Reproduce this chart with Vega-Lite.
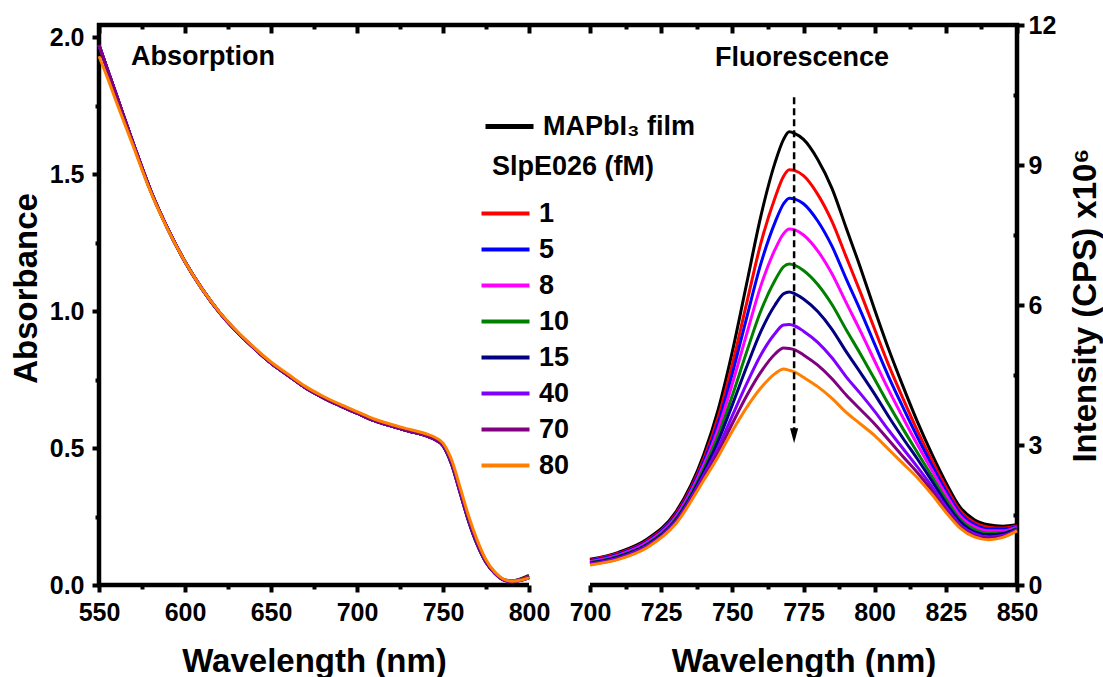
{
"$schema":"https://vega.github.io/schema/vega-lite/v6.json",
"width":918,"height":560,
"autosize":{"type":"none"},
"padding":{"left":99,"top":25,"right":86,"bottom":92},
"background":"white",
"config":{
"font":"Liberation Sans",
"view":{"stroke":"black","strokeWidth":4.5,"strokeDash":[1905,61,1100,0]},
"axis":{"domain":false,"grid":false,"tickColor":"black","tickWidth":4,"labelColor":"black","labelFont":"Liberation Sans","labelFontWeight":"bold","labelFontSize":25,"titleColor":"black","titleFont":"Liberation Sans","titleFontWeight":"bold","titleFontSize":33,"labelOverlap":false,"labelFlush":false,"labelBound":false},
"legend":{"padding":0,"labelFont":"Liberation Sans","labelFontWeight":"bold","labelFontSize":27,"labelColor":"black","titleFont":"Liberation Sans","titleFontWeight":"bold","titleFontSize":27,"titleColor":"black","symbolType":"M-1,0L5,0","symbolSize":256,"symbolOffset":-16,"labelOffset":36,"rowPadding":8}
},
"datasets":{
"labA":[{"t":"Absorption","w":568.6,"a":1.927}],
"labF":[{"t":"Fluorescence","w":774.5,"i":11.29}],
"ann":[{"w":771.7,"i":10.45,"i2":3.2}],
"abs":[
{"s":"MAPbI₃ film","w":550,"a":1.97},{"s":"MAPbI₃ film","w":555,"a":1.88},{"s":"MAPbI₃ film","w":560,"a":1.79},{"s":"MAPbI₃ film","w":570,"a":1.61},{"s":"MAPbI₃ film","w":580,"a":1.44},{"s":"MAPbI₃ film","w":590,"a":1.3},{"s":"MAPbI₃ film","w":600,"a":1.18},{"s":"MAPbI₃ film","w":610,"a":1.08},{"s":"MAPbI₃ film","w":620,"a":0.995},{"s":"MAPbI₃ film","w":630,"a":0.925},{"s":"MAPbI₃ film","w":640,"a":0.865},{"s":"MAPbI₃ film","w":650,"a":0.81},{"s":"MAPbI₃ film","w":660,"a":0.765},{"s":"MAPbI₃ film","w":670,"a":0.72},{"s":"MAPbI₃ film","w":680,"a":0.685},{"s":"MAPbI₃ film","w":690,"a":0.655},{"s":"MAPbI₃ film","w":700,"a":0.627},{"s":"MAPbI₃ film","w":710,"a":0.6},{"s":"MAPbI₃ film","w":720,"a":0.58},{"s":"MAPbI₃ film","w":730,"a":0.562},{"s":"MAPbI₃ film","w":740,"a":0.545},{"s":"MAPbI₃ film","w":745,"a":0.532},{"s":"MAPbI₃ film","w":750,"a":0.508},{"s":"MAPbI₃ film","w":755,"a":0.44},{"s":"MAPbI₃ film","w":760,"a":0.335},{"s":"MAPbI₃ film","w":765,"a":0.23},{"s":"MAPbI₃ film","w":770,"a":0.145},{"s":"MAPbI₃ film","w":775,"a":0.082},{"s":"MAPbI₃ film","w":780,"a":0.043},{"s":"MAPbI₃ film","w":785,"a":0.02},{"s":"MAPbI₃ film","w":790,"a":0.015},{"s":"MAPbI₃ film","w":795,"a":0.022},{"s":"MAPbI₃ film","w":800,"a":0.035},
{"s":"1","w":550,"a":1.97},{"s":"1","w":555,"a":1.88},{"s":"1","w":560,"a":1.79},{"s":"1","w":570,"a":1.61},{"s":"1","w":580,"a":1.44},{"s":"1","w":590,"a":1.3},{"s":"1","w":600,"a":1.18},{"s":"1","w":610,"a":1.08},{"s":"1","w":620,"a":0.995},{"s":"1","w":630,"a":0.925},{"s":"1","w":640,"a":0.865},{"s":"1","w":650,"a":0.81},{"s":"1","w":660,"a":0.765},{"s":"1","w":670,"a":0.72},{"s":"1","w":680,"a":0.685},{"s":"1","w":690,"a":0.655},{"s":"1","w":700,"a":0.627},{"s":"1","w":710,"a":0.6},{"s":"1","w":720,"a":0.58},{"s":"1","w":730,"a":0.562},{"s":"1","w":740,"a":0.545},{"s":"1","w":745,"a":0.532},{"s":"1","w":750,"a":0.509},{"s":"1","w":755,"a":0.442},{"s":"1","w":760,"a":0.337},{"s":"1","w":765,"a":0.232},{"s":"1","w":770,"a":0.147},{"s":"1","w":775,"a":0.083},{"s":"1","w":780,"a":0.044},{"s":"1","w":785,"a":0.02},{"s":"1","w":790,"a":0.014},{"s":"1","w":795,"a":0.02},{"s":"1","w":800,"a":0.032},
{"s":"5","w":550,"a":1.97},{"s":"5","w":555,"a":1.88},{"s":"5","w":560,"a":1.79},{"s":"5","w":570,"a":1.61},{"s":"5","w":580,"a":1.44},{"s":"5","w":590,"a":1.3},{"s":"5","w":600,"a":1.18},{"s":"5","w":610,"a":1.08},{"s":"5","w":620,"a":0.995},{"s":"5","w":630,"a":0.925},{"s":"5","w":640,"a":0.865},{"s":"5","w":650,"a":0.81},{"s":"5","w":660,"a":0.765},{"s":"5","w":670,"a":0.72},{"s":"5","w":680,"a":0.685},{"s":"5","w":690,"a":0.655},{"s":"5","w":700,"a":0.627},{"s":"5","w":710,"a":0.6},{"s":"5","w":720,"a":0.58},{"s":"5","w":730,"a":0.562},{"s":"5","w":740,"a":0.545},{"s":"5","w":745,"a":0.532},{"s":"5","w":750,"a":0.509},{"s":"5","w":755,"a":0.442},{"s":"5","w":760,"a":0.337},{"s":"5","w":765,"a":0.232},{"s":"5","w":770,"a":0.147},{"s":"5","w":775,"a":0.083},{"s":"5","w":780,"a":0.044},{"s":"5","w":785,"a":0.019},{"s":"5","w":790,"a":0.013},{"s":"5","w":795,"a":0.018},{"s":"5","w":800,"a":0.028},
{"s":"8","w":550,"a":1.97},{"s":"8","w":555,"a":1.88},{"s":"8","w":560,"a":1.79},{"s":"8","w":570,"a":1.61},{"s":"8","w":580,"a":1.44},{"s":"8","w":590,"a":1.3},{"s":"8","w":600,"a":1.18},{"s":"8","w":610,"a":1.08},{"s":"8","w":620,"a":0.995},{"s":"8","w":630,"a":0.925},{"s":"8","w":640,"a":0.865},{"s":"8","w":650,"a":0.81},{"s":"8","w":660,"a":0.765},{"s":"8","w":670,"a":0.72},{"s":"8","w":680,"a":0.685},{"s":"8","w":690,"a":0.655},{"s":"8","w":700,"a":0.627},{"s":"8","w":710,"a":0.6},{"s":"8","w":720,"a":0.58},{"s":"8","w":730,"a":0.562},{"s":"8","w":740,"a":0.545},{"s":"8","w":745,"a":0.532},{"s":"8","w":750,"a":0.51},{"s":"8","w":755,"a":0.444},{"s":"8","w":760,"a":0.339},{"s":"8","w":765,"a":0.234},{"s":"8","w":770,"a":0.149},{"s":"8","w":775,"a":0.084},{"s":"8","w":780,"a":0.045},{"s":"8","w":785,"a":0.02},{"s":"8","w":790,"a":0.013},{"s":"8","w":795,"a":0.018},{"s":"8","w":800,"a":0.028},
{"s":"10","w":550,"a":1.97},{"s":"10","w":555,"a":1.88},{"s":"10","w":560,"a":1.79},{"s":"10","w":570,"a":1.61},{"s":"10","w":580,"a":1.44},{"s":"10","w":590,"a":1.3},{"s":"10","w":600,"a":1.18},{"s":"10","w":610,"a":1.08},{"s":"10","w":620,"a":0.995},{"s":"10","w":630,"a":0.925},{"s":"10","w":640,"a":0.865},{"s":"10","w":650,"a":0.81},{"s":"10","w":660,"a":0.765},{"s":"10","w":670,"a":0.72},{"s":"10","w":680,"a":0.685},{"s":"10","w":690,"a":0.655},{"s":"10","w":700,"a":0.627},{"s":"10","w":710,"a":0.6},{"s":"10","w":720,"a":0.58},{"s":"10","w":730,"a":0.562},{"s":"10","w":740,"a":0.545},{"s":"10","w":745,"a":0.532},{"s":"10","w":750,"a":0.51},{"s":"10","w":755,"a":0.445},{"s":"10","w":760,"a":0.34},{"s":"10","w":765,"a":0.235},{"s":"10","w":770,"a":0.15},{"s":"10","w":775,"a":0.085},{"s":"10","w":780,"a":0.045},{"s":"10","w":785,"a":0.02},{"s":"10","w":790,"a":0.013},{"s":"10","w":795,"a":0.018},{"s":"10","w":800,"a":0.028},
{"s":"15","w":550,"a":1.97},{"s":"15","w":555,"a":1.88},{"s":"15","w":560,"a":1.79},{"s":"15","w":570,"a":1.61},{"s":"15","w":580,"a":1.44},{"s":"15","w":590,"a":1.3},{"s":"15","w":600,"a":1.18},{"s":"15","w":610,"a":1.08},{"s":"15","w":620,"a":0.995},{"s":"15","w":630,"a":0.925},{"s":"15","w":640,"a":0.865},{"s":"15","w":650,"a":0.81},{"s":"15","w":660,"a":0.765},{"s":"15","w":670,"a":0.72},{"s":"15","w":680,"a":0.685},{"s":"15","w":690,"a":0.655},{"s":"15","w":700,"a":0.627},{"s":"15","w":710,"a":0.6},{"s":"15","w":720,"a":0.58},{"s":"15","w":730,"a":0.562},{"s":"15","w":740,"a":0.545},{"s":"15","w":745,"a":0.532},{"s":"15","w":750,"a":0.51},{"s":"15","w":755,"a":0.445},{"s":"15","w":760,"a":0.34},{"s":"15","w":765,"a":0.235},{"s":"15","w":770,"a":0.15},{"s":"15","w":775,"a":0.085},{"s":"15","w":780,"a":0.045},{"s":"15","w":785,"a":0.02},{"s":"15","w":790,"a":0.012},{"s":"15","w":795,"a":0.017},{"s":"15","w":800,"a":0.027},
{"s":"40","w":550,"a":1.97},{"s":"40","w":555,"a":1.88},{"s":"40","w":560,"a":1.79},{"s":"40","w":570,"a":1.61},{"s":"40","w":580,"a":1.44},{"s":"40","w":590,"a":1.3},{"s":"40","w":600,"a":1.18},{"s":"40","w":610,"a":1.08},{"s":"40","w":620,"a":0.995},{"s":"40","w":630,"a":0.925},{"s":"40","w":640,"a":0.865},{"s":"40","w":650,"a":0.81},{"s":"40","w":660,"a":0.765},{"s":"40","w":670,"a":0.72},{"s":"40","w":680,"a":0.685},{"s":"40","w":690,"a":0.655},{"s":"40","w":700,"a":0.627},{"s":"40","w":710,"a":0.6},{"s":"40","w":720,"a":0.58},{"s":"40","w":730,"a":0.562},{"s":"40","w":740,"a":0.545},{"s":"40","w":745,"a":0.532},{"s":"40","w":750,"a":0.511},{"s":"40","w":755,"a":0.447},{"s":"40","w":760,"a":0.342},{"s":"40","w":765,"a":0.238},{"s":"40","w":770,"a":0.152},{"s":"40","w":775,"a":0.086},{"s":"40","w":780,"a":0.045},{"s":"40","w":785,"a":0.019},{"s":"40","w":790,"a":0.011},{"s":"40","w":795,"a":0.016},{"s":"40","w":800,"a":0.026},
{"s":"70","w":550,"a":1.97},{"s":"70","w":555,"a":1.88},{"s":"70","w":560,"a":1.79},{"s":"70","w":570,"a":1.61},{"s":"70","w":580,"a":1.44},{"s":"70","w":590,"a":1.3},{"s":"70","w":600,"a":1.18},{"s":"70","w":610,"a":1.08},{"s":"70","w":620,"a":0.995},{"s":"70","w":630,"a":0.925},{"s":"70","w":640,"a":0.865},{"s":"70","w":650,"a":0.81},{"s":"70","w":660,"a":0.765},{"s":"70","w":670,"a":0.72},{"s":"70","w":680,"a":0.685},{"s":"70","w":690,"a":0.655},{"s":"70","w":700,"a":0.627},{"s":"70","w":710,"a":0.6},{"s":"70","w":720,"a":0.58},{"s":"70","w":730,"a":0.563},{"s":"70","w":740,"a":0.546},{"s":"70","w":745,"a":0.533},{"s":"70","w":750,"a":0.512},{"s":"70","w":755,"a":0.448},{"s":"70","w":760,"a":0.344},{"s":"70","w":765,"a":0.24},{"s":"70","w":770,"a":0.154},{"s":"70","w":775,"a":0.087},{"s":"70","w":780,"a":0.046},{"s":"70","w":785,"a":0.02},{"s":"70","w":790,"a":0.012},{"s":"70","w":795,"a":0.016},{"s":"70","w":800,"a":0.026},
{"s":"80","w":550,"a":1.93},{"s":"80","w":555,"a":1.85},{"s":"80","w":560,"a":1.765},{"s":"80","w":570,"a":1.6},{"s":"80","w":580,"a":1.435},{"s":"80","w":590,"a":1.298},{"s":"80","w":600,"a":1.18},{"s":"80","w":610,"a":1.08},{"s":"80","w":620,"a":0.997},{"s":"80","w":630,"a":0.928},{"s":"80","w":640,"a":0.868},{"s":"80","w":650,"a":0.814},{"s":"80","w":660,"a":0.769},{"s":"80","w":670,"a":0.725},{"s":"80","w":680,"a":0.69},{"s":"80","w":690,"a":0.66},{"s":"80","w":700,"a":0.633},{"s":"80","w":710,"a":0.606},{"s":"80","w":720,"a":0.586},{"s":"80","w":730,"a":0.569},{"s":"80","w":740,"a":0.552},{"s":"80","w":745,"a":0.54},{"s":"80","w":750,"a":0.518},{"s":"80","w":755,"a":0.457},{"s":"80","w":760,"a":0.355},{"s":"80","w":765,"a":0.25},{"s":"80","w":770,"a":0.162},{"s":"80","w":775,"a":0.092},{"s":"80","w":780,"a":0.048},{"s":"80","w":785,"a":0.022},{"s":"80","w":790,"a":0.014},{"s":"80","w":795,"a":0.017},{"s":"80","w":800,"a":0.026}
],
"fl":[
{"s":"MAPbI₃ film","w":700,"i":0.55},{"s":"MAPbI₃ film","w":710,"i":0.7},{"s":"MAPbI₃ film","w":720,"i":0.98},{"s":"MAPbI₃ film","w":730,"i":1.55},{"s":"MAPbI₃ film","w":740,"i":2.8},{"s":"MAPbI₃ film","w":745,"i":3.75},{"s":"MAPbI₃ film","w":750,"i":5.0},{"s":"MAPbI₃ film","w":755,"i":6.45},{"s":"MAPbI₃ film","w":760,"i":7.9},{"s":"MAPbI₃ film","w":765,"i":9.05},{"s":"MAPbI₃ film","w":768,"i":9.55},{"s":"MAPbI₃ film","w":770,"i":9.71},{"s":"MAPbI₃ film","w":772,"i":9.67},{"s":"MAPbI₃ film","w":775,"i":9.55},{"s":"MAPbI₃ film","w":780,"i":9.12},{"s":"MAPbI₃ film","w":785,"i":8.5},{"s":"MAPbI₃ film","w":790,"i":7.65},{"s":"MAPbI₃ film","w":795,"i":6.8},{"s":"MAPbI₃ film","w":800,"i":5.9},{"s":"MAPbI₃ film","w":805,"i":5.04},{"s":"MAPbI₃ film","w":810,"i":4.25},{"s":"MAPbI₃ film","w":815,"i":3.5},{"s":"MAPbI₃ film","w":820,"i":2.82},{"s":"MAPbI₃ film","w":825,"i":2.2},{"s":"MAPbI₃ film","w":830,"i":1.67},{"s":"MAPbI₃ film","w":835,"i":1.4},{"s":"MAPbI₃ film","w":840,"i":1.29},{"s":"MAPbI₃ film","w":845,"i":1.26},{"s":"MAPbI₃ film","w":850,"i":1.29},
{"s":"1","w":700,"i":0.53},{"s":"1","w":710,"i":0.68},{"s":"1","w":720,"i":0.95},{"s":"1","w":730,"i":1.51},{"s":"1","w":740,"i":2.71},{"s":"1","w":745,"i":3.59},{"s":"1","w":750,"i":4.73},{"s":"1","w":755,"i":6.03},{"s":"1","w":760,"i":7.32},{"s":"1","w":765,"i":8.3},{"s":"1","w":768,"i":8.76},{"s":"1","w":770,"i":8.9},{"s":"1","w":772,"i":8.88},{"s":"1","w":775,"i":8.77},{"s":"1","w":780,"i":8.37},{"s":"1","w":785,"i":7.79},{"s":"1","w":790,"i":7.03},{"s":"1","w":795,"i":6.27},{"s":"1","w":800,"i":5.48},{"s":"1","w":805,"i":4.7},{"s":"1","w":810,"i":3.99},{"s":"1","w":815,"i":3.31},{"s":"1","w":820,"i":2.68},{"s":"1","w":825,"i":2.1},{"s":"1","w":830,"i":1.59},{"s":"1","w":835,"i":1.34},{"s":"1","w":840,"i":1.24},{"s":"1","w":845,"i":1.22},{"s":"1","w":850,"i":1.27},
{"s":"5","w":700,"i":0.52},{"s":"5","w":710,"i":0.66},{"s":"5","w":720,"i":0.93},{"s":"5","w":730,"i":1.48},{"s":"5","w":740,"i":2.65},{"s":"5","w":745,"i":3.47},{"s":"5","w":750,"i":4.53},{"s":"5","w":755,"i":5.72},{"s":"5","w":760,"i":6.88},{"s":"5","w":765,"i":7.77},{"s":"5","w":768,"i":8.17},{"s":"5","w":770,"i":8.29},{"s":"5","w":772,"i":8.27},{"s":"5","w":775,"i":8.17},{"s":"5","w":780,"i":7.8},{"s":"5","w":785,"i":7.26},{"s":"5","w":790,"i":6.56},{"s":"5","w":795,"i":5.88},{"s":"5","w":800,"i":5.16},{"s":"5","w":805,"i":4.45},{"s":"5","w":810,"i":3.8},{"s":"5","w":815,"i":3.17},{"s":"5","w":820,"i":2.58},{"s":"5","w":825,"i":2.02},{"s":"5","w":830,"i":1.54},{"s":"5","w":835,"i":1.3},{"s":"5","w":840,"i":1.2},{"s":"5","w":845,"i":1.2},{"s":"5","w":850,"i":1.25},
{"s":"8","w":700,"i":0.5},{"s":"8","w":710,"i":0.64},{"s":"8","w":720,"i":0.91},{"s":"8","w":730,"i":1.45},{"s":"8","w":740,"i":2.58},{"s":"8","w":745,"i":3.34},{"s":"8","w":750,"i":4.31},{"s":"8","w":755,"i":5.37},{"s":"8","w":760,"i":6.41},{"s":"8","w":765,"i":7.19},{"s":"8","w":768,"i":7.53},{"s":"8","w":770,"i":7.63},{"s":"8","w":772,"i":7.61},{"s":"8","w":775,"i":7.5},{"s":"8","w":780,"i":7.16},{"s":"8","w":785,"i":6.67},{"s":"8","w":790,"i":6.05},{"s":"8","w":795,"i":5.44},{"s":"8","w":800,"i":4.8},{"s":"8","w":805,"i":4.17},{"s":"8","w":810,"i":3.58},{"s":"8","w":815,"i":3.01},{"s":"8","w":820,"i":2.47},{"s":"8","w":825,"i":1.94},{"s":"8","w":830,"i":1.48},{"s":"8","w":835,"i":1.25},{"s":"8","w":840,"i":1.16},{"s":"8","w":845,"i":1.16},{"s":"8","w":850,"i":1.24},
{"s":"10","w":700,"i":0.48},{"s":"10","w":710,"i":0.62},{"s":"10","w":720,"i":0.88},{"s":"10","w":730,"i":1.41},{"s":"10","w":740,"i":2.5},{"s":"10","w":745,"i":3.2},{"s":"10","w":750,"i":4.06},{"s":"10","w":755,"i":4.99},{"s":"10","w":760,"i":5.87},{"s":"10","w":765,"i":6.53},{"s":"10","w":768,"i":6.82},{"s":"10","w":770,"i":6.88},{"s":"10","w":772,"i":6.85},{"s":"10","w":775,"i":6.74},{"s":"10","w":780,"i":6.44},{"s":"10","w":785,"i":6.01},{"s":"10","w":790,"i":5.47},{"s":"10","w":795,"i":4.95},{"s":"10","w":800,"i":4.41},{"s":"10","w":805,"i":3.86},{"s":"10","w":810,"i":3.34},{"s":"10","w":815,"i":2.84},{"s":"10","w":820,"i":2.34},{"s":"10","w":825,"i":1.84},{"s":"10","w":830,"i":1.41},{"s":"10","w":835,"i":1.19},{"s":"10","w":840,"i":1.11},{"s":"10","w":845,"i":1.12},{"s":"10","w":850,"i":1.22},
{"s":"15","w":700,"i":0.47},{"s":"15","w":710,"i":0.6},{"s":"15","w":720,"i":0.86},{"s":"15","w":730,"i":1.38},{"s":"15","w":740,"i":2.43},{"s":"15","w":745,"i":3.08},{"s":"15","w":750,"i":3.86},{"s":"15","w":755,"i":4.67},{"s":"15","w":760,"i":5.43},{"s":"15","w":765,"i":6.0},{"s":"15","w":768,"i":6.24},{"s":"15","w":770,"i":6.28},{"s":"15","w":772,"i":6.24},{"s":"15","w":775,"i":6.13},{"s":"15","w":780,"i":5.86},{"s":"15","w":785,"i":5.48},{"s":"15","w":790,"i":5.0},{"s":"15","w":795,"i":4.55},{"s":"15","w":800,"i":4.09},{"s":"15","w":805,"i":3.6},{"s":"15","w":810,"i":3.14},{"s":"15","w":815,"i":2.7},{"s":"15","w":820,"i":2.24},{"s":"15","w":825,"i":1.76},{"s":"15","w":830,"i":1.36},{"s":"15","w":835,"i":1.14},{"s":"15","w":840,"i":1.08},{"s":"15","w":845,"i":1.1},{"s":"15","w":850,"i":1.2},
{"s":"40","w":700,"i":0.45},{"s":"40","w":710,"i":0.58},{"s":"40","w":720,"i":0.84},{"s":"40","w":730,"i":1.35},{"s":"40","w":740,"i":2.36},{"s":"40","w":745,"i":2.94},{"s":"40","w":750,"i":3.63},{"s":"40","w":755,"i":4.31},{"s":"40","w":760,"i":4.93},{"s":"40","w":765,"i":5.39},{"s":"40","w":768,"i":5.57},{"s":"40","w":770,"i":5.58},{"s":"40","w":772,"i":5.55},{"s":"40","w":775,"i":5.44},{"s":"40","w":780,"i":5.2},{"s":"40","w":785,"i":4.87},{"s":"40","w":790,"i":4.46},{"s":"40","w":795,"i":4.1},{"s":"40","w":800,"i":3.72},{"s":"40","w":805,"i":3.31},{"s":"40","w":810,"i":2.92},{"s":"40","w":815,"i":2.53},{"s":"40","w":820,"i":2.12},{"s":"40","w":825,"i":1.68},{"s":"40","w":830,"i":1.29},{"s":"40","w":835,"i":1.1},{"s":"40","w":840,"i":1.03},{"s":"40","w":845,"i":1.06},{"s":"40","w":850,"i":1.19},
{"s":"70","w":700,"i":0.44},{"s":"70","w":710,"i":0.56},{"s":"70","w":720,"i":0.82},{"s":"70","w":730,"i":1.32},{"s":"70","w":740,"i":2.3},{"s":"70","w":745,"i":2.84},{"s":"70","w":750,"i":3.46},{"s":"70","w":755,"i":4.05},{"s":"70","w":760,"i":4.56},{"s":"70","w":765,"i":4.95},{"s":"70","w":768,"i":5.08},{"s":"70","w":770,"i":5.07},{"s":"70","w":772,"i":5.04},{"s":"70","w":775,"i":4.93},{"s":"70","w":780,"i":4.71},{"s":"70","w":785,"i":4.42},{"s":"70","w":790,"i":4.07},{"s":"70","w":795,"i":3.76},{"s":"70","w":800,"i":3.45},{"s":"70","w":805,"i":3.1},{"s":"70","w":810,"i":2.75},{"s":"70","w":815,"i":2.41},{"s":"70","w":820,"i":2.03},{"s":"70","w":825,"i":1.61},{"s":"70","w":830,"i":1.25},{"s":"70","w":835,"i":1.06},{"s":"70","w":840,"i":1.0},{"s":"70","w":845,"i":1.04},{"s":"70","w":850,"i":1.17},
{"s":"80","w":700,"i":0.43},{"s":"80","w":710,"i":0.55},{"s":"80","w":720,"i":0.8},{"s":"80","w":730,"i":1.3},{"s":"80","w":740,"i":2.25},{"s":"80","w":745,"i":2.75},{"s":"80","w":750,"i":3.3},{"s":"80","w":755,"i":3.8},{"s":"80","w":760,"i":4.22},{"s":"80","w":765,"i":4.53},{"s":"80","w":768,"i":4.63},{"s":"80","w":770,"i":4.6},{"s":"80","w":772,"i":4.56},{"s":"80","w":775,"i":4.45},{"s":"80","w":780,"i":4.25},{"s":"80","w":785,"i":4.0},{"s":"80","w":790,"i":3.7},{"s":"80","w":795,"i":3.45},{"s":"80","w":800,"i":3.2},{"s":"80","w":805,"i":2.9},{"s":"80","w":810,"i":2.6},{"s":"80","w":815,"i":2.3},{"s":"80","w":820,"i":1.95},{"s":"80","w":825,"i":1.56},{"s":"80","w":830,"i":1.22},{"s":"80","w":835,"i":1.03},{"s":"80","w":840,"i":0.97},{"s":"80","w":845,"i":1.02},{"s":"80","w":850,"i":1.16}
]
},
"layer":[
{
"data":{"name":"abs"},
"mark":{"type":"line","strokeWidth":3,"interpolate":"monotone"},
"encoding":{
"x":{"field":"w","type":"quantitative","scale":{"domain":[550,800],"range":[0,430],"nice":false,"zero":false},
"axis":{"orient":"bottom","values":[550,575,600,625,650,675,700,725,750,775,800],"labelExpr":"datum.value % 50 === 0 ? datum.label : ''","tickSize":{"condition":{"test":"datum.value % 50 !== 0","value":4},"value":7},"labelPadding":8,"title":"Wavelength (nm)","titlePadding":20}},
"y":{"field":"a","type":"quantitative","scale":{"domain":[0,2.044],"nice":false,"zero":false},
"axis":{"orient":"left","values":[0,0.25,0.5,0.75,1,1.25,1.5,1.75,2],"labelExpr":"datum.value % 0.5 === 0 ? format(datum.value, '.1f') : ''","tickSize":{"condition":{"test":"datum.value % 0.5 !== 0","value":4},"value":7},"labelPadding":8,"title":"Absorbance","titlePadding":6,"titleY":263}},
"color":{"field":"s","type":"nominal","scale":{"domain":["MAPbI₃ film","1","5","8","10","15","40","70","80"],"range":["#000000","#FF0000","#0000FF","#FF00FF","#008000","#000080","#8000FF","#800080","#FF8000"]},"legend":null}
}
},
{
"data":{"name":"fl"},
"layer":[
{
"transform":[{"filter":{"field":"s","equal":"MAPbI₃ film"}}],
"mark":{"type":"line","strokeWidth":3,"interpolate":"monotone"},
"encoding":{
"x":{"field":"w","type":"quantitative","scale":{"domain":[700,850],"range":[491,918],"nice":false,"zero":false},
"axis":{"orient":"bottom","values":[700,712.5,725,737.5,750,762.5,775,787.5,800,812.5,825,837.5,850],"labelExpr":"datum.value % 25 === 0 ? datum.label : ''","tickSize":{"condition":{"test":"datum.value % 25 !== 0","value":4},"value":7},"labelPadding":8,"title":"Wavelength (nm)","titlePadding":20}},
"y":{"field":"i","type":"quantitative","scale":{"domain":[0,12],"nice":false,"zero":false},
"axis":{"orient":"right","values":[0,1.5,3,4.5,6,7.5,9,10.5,12],"labelExpr":"datum.value % 3 === 0 ? datum.label : ''","tickSize":{"condition":{"test":"datum.value % 3 !== 0","value":-4},"value":7},"labelPadding":4,"title":"Intensity (CPS) x10⁶","titleAngle":270,"titleBaseline":"top","titlePadding":14}},
"color":{"field":"s","type":"nominal","scale":{"domain":["MAPbI₃ film"],"range":["#000000"]},
"legend":{"orient":"none","legendX":397,"legendY":88,"title":null,"symbolStrokeWidth":5}}
}
},
{
"transform":[{"filter":{"not":{"field":"s","equal":"MAPbI₃ film"}}}],
"mark":{"type":"line","strokeWidth":3,"interpolate":"monotone"},
"encoding":{
"x":{"field":"w","type":"quantitative","scale":{"domain":[700,850],"range":[491,918],"nice":false,"zero":false}},
"y":{"field":"i","type":"quantitative","scale":{"domain":[0,12],"nice":false,"zero":false}},
"color":{"field":"s","type":"nominal","scale":{"domain":["1","5","8","10","15","40","70","80"],"range":["#FF0000","#0000FF","#FF00FF","#008000","#000080","#8000FF","#800080","#FF8000"]},
"legend":{"orient":"none","legendX":393,"legendY":129,"title":"SlpE026 (fM)","titlePadding":19,"symbolStrokeWidth":4}}
}
},
{
"data":{"name":"ann"},
"mark":{"type":"rule","strokeDash":[7,4],"strokeWidth":2.5,"color":"black"},
"encoding":{
"x":{"field":"w","type":"quantitative","scale":{"domain":[700,850],"range":[491,918],"nice":false,"zero":false}},
"y":{"field":"i","type":"quantitative","scale":{"domain":[0,12],"nice":false,"zero":false}},
"y2":{"field":"i2"}
}
},
{
"data":{"name":"ann"},
"mark":{"type":"point","shape":"M-0.54,-1L0.54,-1L0,1Z","size":225,"filled":true,"color":"black","opacity":1},
"encoding":{
"x":{"field":"w","type":"quantitative","scale":{"domain":[700,850],"range":[491,918],"nice":false,"zero":false}},
"y":{"field":"i2","type":"quantitative","scale":{"domain":[0,12],"nice":false,"zero":false}}
}
}
],
"resolve":{"scale":{"color":"independent"}}
},
{
"data":{"name":"labA"},
"mark":{"type":"text","align":"left","baseline":"middle","fontSize":27,"fontWeight":"bold","color":"black"},
"encoding":{
"x":{"field":"w","type":"quantitative","scale":{"domain":[550,800],"range":[0,430],"nice":false,"zero":false},
"axis":{"orient":"top","values":[550,575,600,625,650,675,700,725,750,775,800],"labels":false,"title":null,"tickSize":{"condition":{"test":"datum.value % 50 !== 0","value":-4},"value":-8}}},
"y":{"field":"a","type":"quantitative","scale":{"domain":[0,2.044],"nice":false,"zero":false},"axis":null},
"text":{"field":"t"}
}
},
{
"data":{"name":"labF"},
"mark":{"type":"text","align":"center","baseline":"middle","fontSize":27,"fontWeight":"bold","color":"black"},
"encoding":{
"x":{"field":"w","type":"quantitative","scale":{"domain":[700,850],"range":[491,918],"nice":false,"zero":false},
"axis":{"orient":"top","values":[700,712.5,725,737.5,750,762.5,775,787.5,800,812.5,825,837.5,850],"labels":false,"title":null,"tickSize":{"condition":{"test":"datum.value % 25 !== 0","value":-4},"value":-8}}},
"y":{"field":"i","type":"quantitative","scale":{"domain":[0,12],"nice":false,"zero":false},"axis":null},
"text":{"field":"t"}
}
}
],
"resolve":{"scale":{"x":"independent","y":"independent","color":"independent"},"axis":{"x":"independent","y":"independent"}}
}
